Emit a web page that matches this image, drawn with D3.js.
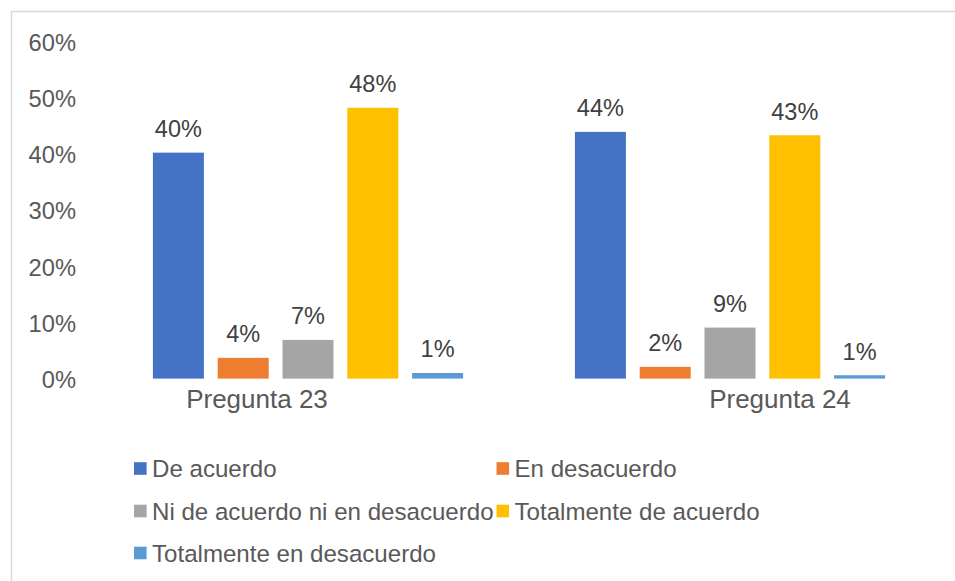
<!DOCTYPE html>
<html>
<head>
<meta charset="utf-8">
<script src="https://cdn.jsdelivr.net/npm/d3@7"></script>
<style>
  html, body { margin: 0; padding: 0; background: #fff; }
  svg { display: block; }
  text { font-family: "Liberation Sans", Arial, sans-serif; }
</style>
</head>
<body>
<svg id="chart" width="955" height="581"></svg>
<script>
// ---- data ----
const categories = ["Pregunta 23", "Pregunta 24"];
const seriesNames = ["De acuerdo", "En desacuerdo", "Ni de acuerdo ni en desacuerdo", "Totalmente de acuerdo", "Totalmente en desacuerdo"];
const deAcuerdo = [0.403, 0.440];
const enDesacuerdo = [0.037, 0.021];
const niNi = [0.069, 0.091];
const totalmenteDeAcuerdo = [0.483, 0.434];
const totalmenteEnDesacuerdo = [0.010, 0.006];
const yTicks = [0, 0.1, 0.2, 0.3, 0.4, 0.5, 0.6];

const seriesValues = [deAcuerdo, enDesacuerdo, niNi, totalmenteDeAcuerdo, totalmenteEnDesacuerdo];
const colors = ["#4472C4", "#ED7D31", "#A5A5A5", "#FFC000", "#5B9BD5"];

// ---- layout ----
const svg = d3.select("#chart");
const plotLeft = 97, plotRight = 941, plotTop = 42.2, plotBottom = 378.6;
const clusterWidth = 310.2;
const catLabelShift = [-51, 50];

const y = d3.scaleLinear().domain([0, 0.6]).range([plotBottom, plotTop]);
const x0 = d3.scaleBand().domain(categories).range([plotLeft, plotRight]).padding(0);
const x1 = d3.scaleBand().domain(seriesNames).range([0, clusterWidth]).paddingInner(0.213).paddingOuter(0);
const pct = d3.format(".0%");

// frame (cut off at right and bottom as in reference)
svg.append("path")
  .attr("d", "M11.5,581 L11.5,11.5 L955,11.5")
  .attr("fill", "none")
  .attr("stroke", "#d9d9d9")
  .attr("stroke-width", 1.5);

// y axis labels
const yAxis = d3.axisLeft(y).tickValues(yTicks).tickFormat(pct).tickSize(0).tickPadding(0);
const yg = svg.append("g").attr("transform", "translate(76,0)").call(yAxis);
yg.select(".domain").remove();
yg.selectAll("text")
  .attr("fill", "#595959")
  .style("font-size", "23.7px")
  .style("font-family", "'Liberation Sans', Arial, sans-serif")
  .attr("x", 0).attr("dy", "0.36em");

// bars
const groups = svg.append("g").selectAll("g")
  .data(categories)
  .join("g")
  .attr("transform", d => `translate(${x0(d) + x0.bandwidth() / 2 - clusterWidth / 2},0)`);

groups.selectAll("rect")
  .data((c, ci) => seriesNames.map((s, si) => ({ s, si, v: seriesValues[si][ci] })))
  .join("rect")
  .attr("x", d => x1(d.s))
  .attr("width", x1.bandwidth())
  .attr("y", d => y(d.v))
  .attr("height", d => y(0) - y(d.v))
  .attr("fill", d => colors[d.si]);

groups.selectAll("text.val")
  .data((c, ci) => seriesNames.map((s, si) => ({ s, si, v: seriesValues[si][ci] })))
  .join("text")
  .attr("class", "val")
  .attr("x", d => x1(d.s) + x1.bandwidth() / 2)
  .attr("y", d => y(d.v) - 15.5)
  .attr("text-anchor", "middle")
  .attr("fill", "#404040")
  .style("font-size", "23.5px")
  .text(d => pct(d.v));

// category labels
svg.append("g").selectAll("text")
  .data(categories)
  .join("text")
  .attr("x", (d, i) => x0(d) + x0.bandwidth() / 2 + catLabelShift[i])
  .attr("y", 408.3)
  .attr("text-anchor", "middle")
  .attr("fill", "#595959")
  .style("font-size", "26px")
  .text(d => d);

// legend
const legendCols = [134, 496.5];
const legendRows = [468.5, 511, 553];
const legend = svg.append("g").selectAll("g")
  .data(seriesNames)
  .join("g")
  .attr("transform", (d, i) => `translate(${legendCols[i % 2]},${legendRows[Math.floor(i / 2)]})`);
legend.append("rect")
  .attr("x", 0).attr("y", -6.3)
  .attr("width", 12.6).attr("height", 12.6)
  .attr("fill", (d, i) => colors[i]);
legend.append("text")
  .attr("x", 18)
  .attr("y", 0)
  .attr("dy", "0.36em")
  .attr("fill", "#595959")
  .style("font-size", "24.1px")
  .text(d => d);
</script>
</body>
</html>
